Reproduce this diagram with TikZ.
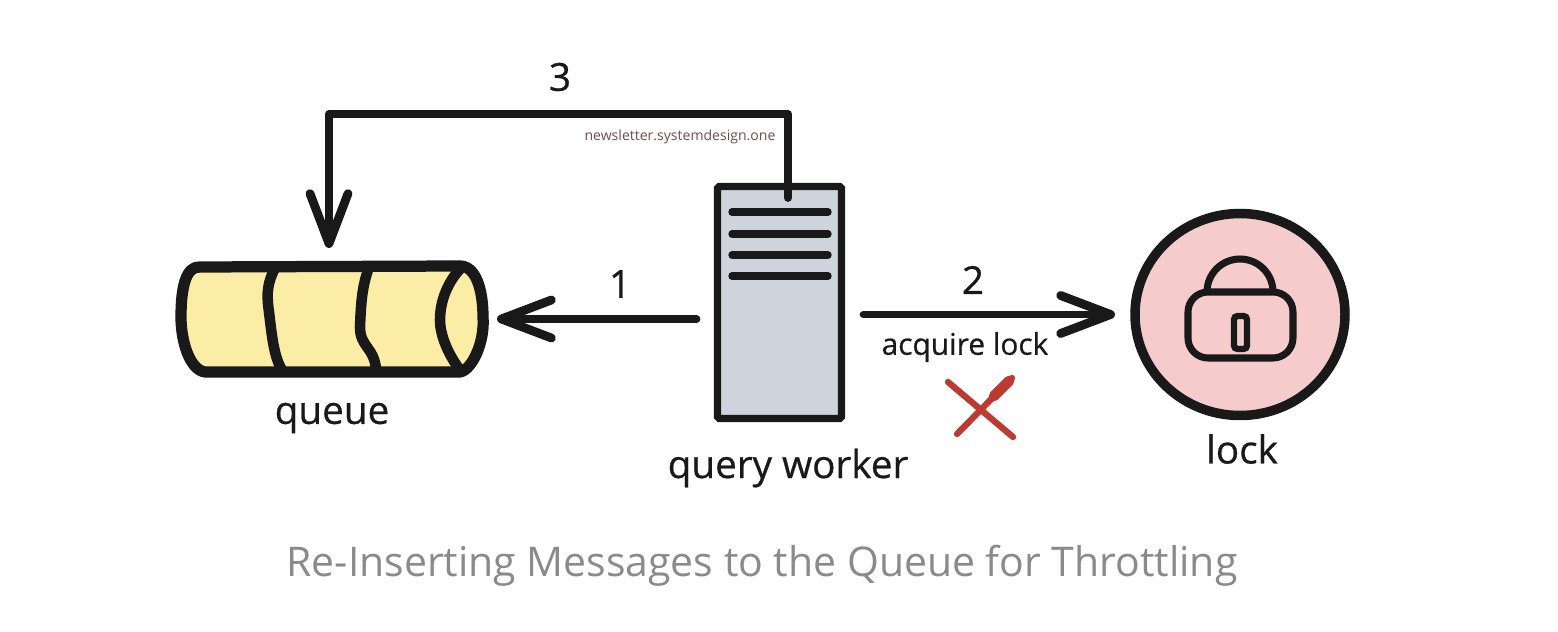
\documentclass[tikz,border=0pt]{standalone}
\usepackage{fontspec}
\setmainfont{Open Sans}
\newfontfamily\handfont{Open Sans}[FakeBold=.6]
\usetikzlibrary{arrows.meta,shapes.geometric}
\definecolor{ink}{HTML}{191919}
\definecolor{queuefill}{HTML}{FBEDA5}
\definecolor{workerfill}{HTML}{CFD4DC}
\definecolor{lockfill}{HTML}{F5CBCC}
\definecolor{crossred}{HTML}{BC3A32}
\definecolor{markbrown}{HTML}{6E4F4C}
\definecolor{captiongray}{HTML}{8A8A8D}
\tikzset{
  flow/.style={draw=ink,line width=2.2pt,line cap=round,line join=round,
    -{Straight Barb[length=.5cm,width=.38cm,line width=2.5pt,line cap=round,line join=round]}},
  bar/.style={draw=ink,line width=2.1pt,line cap=round},
  handtext/.style={text=ink,inner sep=0pt,font=\handfont\fontsize{8.5}{10}\selectfont},
  bigtext/.style={handtext,font=\handfont\fontsize{11}{13}\selectfont},
}
\begin{document}
\begin{tikzpicture}
\useasboundingbox (0,0) rectangle (15.58,6.32);
\node (queue) [minimum width=3.02cm,minimum height=1.02cm,inner sep=0pt,outer sep=0pt] at (3.32,3.13) {};
\node (worker) [draw=ink,fill=workerfill,line width=2.1pt,rounded corners=.5pt,inner sep=0pt,outer sep=0pt,minimum width=1.24cm,minimum height=2.32cm] at (7.795,3.295) {};
\node (lock) [ellipse,draw=ink,fill=lockfill,line width=2.7pt,inner sep=0pt,outer sep=0pt,minimum width=2.1cm,minimum height=2.02cm] at (12.40,3.175) {};
\coordinate (wout) at (7.88,4.34);
\coordinate (qin) at (3.29,3.84);
% queue
\filldraw [draw=ink,fill=queuefill,line width=3.2pt,line join=round]
  (2.00,3.65) -- (4.60,3.66) .. controls (4.76,3.66) and (4.83,3.42) .. (4.83,3.15)
  .. controls (4.85,2.90) and (4.72,2.62) .. (4.60,2.60) -- (2.05,2.60)
  .. controls (1.90,2.62) and (1.81,2.90) .. (1.81,3.15)
  .. controls (1.81,3.45) and (1.86,3.66) .. (2.00,3.65) -- cycle;
\draw [ink,line width=3pt] (4.62,3.65) .. controls (4.47,3.50) and (4.40,3.30) .. (4.40,3.12)
  .. controls (4.40,2.95) and (4.50,2.75) .. (4.60,2.62);
\draw [ink,line width=3pt] (2.75,3.64) .. controls (2.68,3.50) and (2.66,3.40) .. (2.69,3.20)
  .. controls (2.72,2.95) and (2.74,2.75) .. (2.82,2.62);
\draw [ink,line width=3pt] (3.69,3.65) .. controls (3.62,3.45) and (3.61,3.30) .. (3.60,3.05)
  .. controls (3.60,2.85) and (3.74,2.85) .. (3.76,2.63);
% worker
\foreach \y in {4.20,3.98,3.77,3.56}{\draw [bar] (7.32,\y)--(8.28,\y);}
% lock icon
\draw [ink,line width=2pt,fill=lockfill] (12.07,3.40) arc[start angle=180,end angle=0,radius=.33];
\draw [ink,line width=2pt,rounded corners=.2cm] (11.88,2.74) rectangle (12.93,3.40);
\draw [ink,line width=1.8pt,rounded corners=1pt] (12.34,2.83) rectangle (12.47,3.16);
% arrows
\draw [flow,shorten <=.21cm,shorten >=.14cm] (worker.west |- queue.east)--(queue.east);
\draw [flow,shorten <=.22cm,shorten >=.2cm] (worker.east |- lock.west)--(lock.west);
\draw [flow] (wout)--(7.88,5.18)--(3.29,5.18)--(qin);
% cross
\draw [crossred,line width=1.8pt,line cap=round] (9.48,2.50)--(10.13,1.95);
\draw [crossred,line width=1.8pt,line cap=round] (9.57,1.98)--(10.12,2.54);
\draw [crossred,line width=3pt,line cap=round] (9.94,2.36)--(10.09,2.51);
% labels
\node (lab3) [bigtext] at (5.60,5.55) {3};
\node (lab1) [bigtext] at (6.20,3.48) {1};
\node (lab2) [bigtext] at (9.73,3.52) {2};
\node (labacq) [handtext] at (9.65,2.85) {acquire lock};
\node (labqueue) [bigtext] at (3.32,2.14) {queue};
\node (labworker) [bigtext] at (7.88,1.64) {query worker};
\node (lablock) [bigtext] at (12.42,1.83) {lock};
\node (labmark) [inner sep=0pt,text=markbrown,font=\fontsize{4}{5}\selectfont] at (6.80,4.95) {newsletter.systemdesign.one};
\node (caption) [inner sep=0pt,text=captiongray,font=\fontsize{11.65}{14}\selectfont] at (7.62,0.66) {Re-Inserting Messages to the Queue for Throttling};
\end{tikzpicture}
\end{document}
